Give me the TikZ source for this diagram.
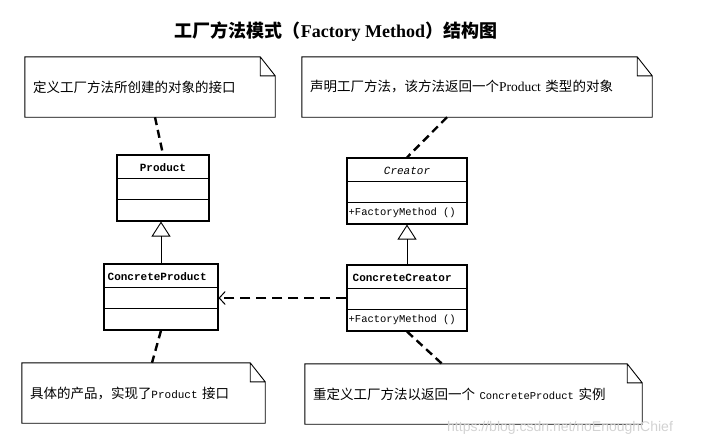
\documentclass[tikz,border=0pt]{standalone}
\usepackage{fontspec}
\setmainfont{Liberation Serif}
\setsansfont{Liberation Sans}
\setmonofont{Liberation Mono}
\newfontfamily\cjk{Noto Sans CJK SC}
\usetikzlibrary{arrows.meta}

\tikzset{
  classbox/.style={draw, line width=1.1pt, minimum height=66pt, inner sep=0pt},
  classname/.style={font=\ttfamily\bfseries\fontsize{11}{12}\selectfont, inner sep=0pt},
  member/.style={font=\ttfamily\fontsize{10.5}{12}\selectfont, inner sep=0pt},
  notebox/.style={inner xsep=8pt, inner ysep=0pt, minimum height=60pt, align=left,
    font=\cjk\fontsize{13.5}{16}\selectfont},
  notelink/.style={line width=2.4pt, dash pattern=on 8pt off 5pt},
  inherit/.style={line width=0.9pt, -{Triangle[open,length=15pt,width=19pt]}},
  depend/.style={line width=1.6pt, dash pattern=on 10pt off 6pt,
    -{Straight Barb[length=6pt,width=13pt,line width=1pt]}}
}

\begin{document}
\begin{tikzpicture}[x=1pt,y=-1pt]
	\useasboundingbox (0,0) rectangle (712,445);

	\node[font=\bfseries\fontsize{18}{20}\selectfont] (title) at (336,32)
		{{\cjk 工厂方法模式（}Factory Method{\cjk ）结构图}};

	% notes
	\node[notebox, text width=234pt] (n1) at (150,87) {定义工厂方法所创建的对象的接口};
	\node[notebox, text width=334pt] (n2) at (477,87) {声明工厂方法，该方法返回一个{\rmfamily Product} 类型的对象};
	\node[notebox, text width=227pt] (n3) at (143.5,393) {具体的产品，实现了{\ttfamily\fontsize{11}{13}\selectfont Product} 接口};
	\node[notebox, text width=321pt] (n4) at (473.5,394) {重定义工厂方法以返回一个 {\ttfamily\fontsize{10.5}{13}\selectfont ConcreteProduct} 实例};

	\foreach \n in {n1,n2,n3,n4}
		\draw[line width=0.9pt] (\n.south west) -- (\n.north west) -- ([xshift=-15]\n.north east)
			-- ([yshift=-19]\n.north east) -- (\n.south east) -- cycle
			([xshift=-15]\n.north east) |- ([yshift=-19]\n.north east);

	% classes
	\node[classbox, minimum width=92pt] (product) at (163,188) {};
	\node[classbox, minimum width=120pt] (creator) at (407,191) {};
	\node[classbox, minimum width=114pt] (cproduct) at (161,297) {};
	\node[classbox, minimum width=120pt] (ccreator) at (407,298) {};

	\foreach \c in {product,creator,cproduct,ccreator}
		\foreach \d in {24,45}
			\draw[line width=1.1pt] ([yshift=-\d]\c.north west) -- ([yshift=-\d]\c.north east);

	\node[classname] (productname) at ([yshift=-13]product.north) {Product};
	\node[classname, font=\ttfamily\itshape\fontsize{11}{12}\selectfont] (creatorname)
		at ([yshift=-13]creator.north) {Creator};
	\node[classname, anchor=west] (cproductname) at ([xshift=4,yshift=-13]cproduct.north west) {ConcreteProduct};
	\node[classname, anchor=west] (ccreatorname) at ([xshift=6,yshift=-13]ccreator.north west) {ConcreteCreator};
	\node[member, anchor=west] (creatorop) at ([xshift=2,yshift=-55.5]creator.north west) {+FactoryMethod ()};
	\node[member, anchor=west] (ccreatorop) at ([xshift=2,yshift=-55.5]ccreator.north west) {+FactoryMethod ()};

	% relations
	\draw[inherit] (cproduct.north) -- (cproduct.north |- product.south);
	\draw[inherit] (ccreator.north) -- (creator.south);
	\draw[depend] (ccreator.west) -- (cproduct.east |- ccreator.west);

	\draw[notelink] ([xshift=5]n1.south) -- (product.north);
	\draw[notelink] ([xshift=-30]n2.south) -- (creator.north);
	\draw[notelink] (cproduct.south) -- ([xshift=8.5]n3.north);
	\draw[notelink] (ccreator.south) -- ([xshift=-31.5]n4.north);

	\node[anchor=base west, inner sep=0pt, font=\sffamily\fontsize{14}{16}\selectfont, text=gray!35]
		(mark) at (447,431) {https://blog.csdn.net/noEnoughChief};
\end{tikzpicture}
\end{document}
